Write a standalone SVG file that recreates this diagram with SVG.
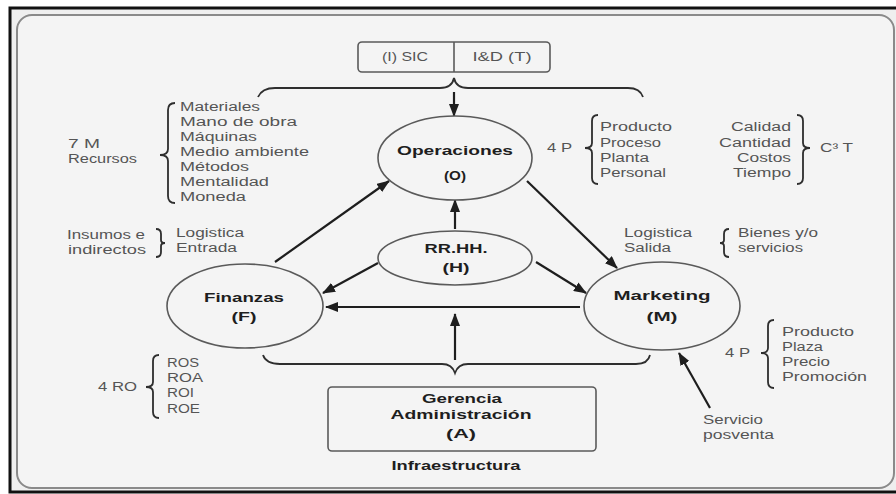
<svg xmlns="http://www.w3.org/2000/svg" width="896" height="494" viewBox="0 0 896 494">
<defs>
  <marker id="arrow" markerUnits="userSpaceOnUse" markerWidth="13" markerHeight="10" refX="12" refY="5" orient="auto">
    <path d="M0,0 L13,5 L0,10 z" fill="#1e1e1e"/>
  </marker>
</defs>
<style>
  .panel{fill:#f4f4f4;stroke:#8a8a8a;stroke-width:2}
  .shape{fill:#f4f4f4;stroke:#5a5a5a;stroke-width:1.6}
  .lbl{font-family:"Liberation Sans","Open Sans",sans-serif;font-size:12px;fill:#555}
  .bold{font-family:"Liberation Sans","Open Sans",sans-serif;font-size:13px;font-weight:bold;fill:#1e1e1e;text-anchor:middle}
  .mid{text-anchor:middle}
  .end{text-anchor:end}
  .link{stroke:#1e1e1e;stroke-width:2.2;fill:none}
  .brace{stroke:#2e2e2e;stroke-width:1.8;fill:none}
</style>

<!-- page frame -->
<rect x="0" y="0" width="896" height="494" fill="#ffffff"/>
<rect x="10" y="8" width="892" height="484" fill="#efefef" stroke="#111" stroke-width="3"/>
<rect class="panel" x="17" y="15" width="877" height="473" rx="15"/>

<!-- connectors -->
<g id="connectors">
  <path class="brace" d="M258,97 Q262,88 275,88 L440,88 Q452,88 454,78 Q456,88 468,88 L628,88 Q640,88 643,97"/>
  <line class="link" x1="454" y1="92" x2="454" y2="116" marker-end="url(#arrow)"/>
  <line class="link" x1="275" y1="262" x2="389" y2="181" marker-end="url(#arrow)"/>
  <line class="link" x1="527" y1="181" x2="617" y2="268" marker-end="url(#arrow)"/>
  <line class="link" x1="455" y1="229" x2="455" y2="200" marker-end="url(#arrow)"/>
  <line class="link" x1="378" y1="263" x2="323" y2="293" marker-end="url(#arrow)"/>
  <line class="link" x1="536" y1="262" x2="586" y2="293" marker-end="url(#arrow)"/>
  <line class="link" x1="580" y1="307" x2="326" y2="307" marker-end="url(#arrow)"/>
  <line class="link" x1="455" y1="360" x2="455" y2="314" marker-end="url(#arrow)"/>
  <path class="brace" d="M263,355 Q266,364 280,364 L442,364 Q452,364 455,373 Q458,364 468,364 L636,364 Q648,364 650,355"/>
  <line class="link" x1="710" y1="408" x2="679" y2="353" marker-end="url(#arrow)"/>
</g>

<!-- top box: information systems / R&D -->
<g id="node-sic-id">
  <rect class="shape" x="358" y="42" width="192" height="30" rx="4"/>
  <line x1="454" y1="42" x2="454" y2="72" stroke="#5a5a5a" stroke-width="1.6"/>
  <text class="lbl mid" x="405" y="61" textLength="46" lengthAdjust="spacingAndGlyphs">(I) SIC</text>
  <text class="lbl mid" x="502" y="61" textLength="59" lengthAdjust="spacingAndGlyphs">I&amp;D (T)</text>
</g>

<g id="node-operaciones">
  <ellipse class="shape" cx="455" cy="158" rx="77" ry="42"/>
  <text class="bold" x="455" y="155" textLength="116" lengthAdjust="spacingAndGlyphs">Operaciones</text>
  <text class="bold" x="455" y="180" textLength="22" lengthAdjust="spacingAndGlyphs">(O)</text>
</g>

<g id="node-rrhh">
  <ellipse class="shape" cx="455" cy="258" rx="77" ry="27"/>
  <text class="bold" x="456" y="253" textLength="63" lengthAdjust="spacingAndGlyphs">RR.HH.</text>
  <text class="bold" x="456" y="272" textLength="27" lengthAdjust="spacingAndGlyphs">(H)</text>
</g>

<g id="node-finanzas">
  <ellipse class="shape" cx="245" cy="306" rx="78" ry="42"/>
  <text class="bold" x="244" y="302" textLength="80" lengthAdjust="spacingAndGlyphs">Finanzas</text>
  <text class="bold" x="244" y="321" textLength="25" lengthAdjust="spacingAndGlyphs">(F)</text>
</g>

<g id="node-marketing">
  <ellipse class="shape" cx="662" cy="306" rx="78" ry="44"/>
  <text class="bold" x="662" y="300" textLength="97" lengthAdjust="spacingAndGlyphs">Marketing</text>
  <text class="bold" x="662" y="321" textLength="31" lengthAdjust="spacingAndGlyphs">(M)</text>
</g>

<g id="node-gerencia">
  <rect class="shape" x="328" y="387" width="268" height="64" rx="4"/>
  <text class="bold" x="462" y="403" textLength="80" lengthAdjust="spacingAndGlyphs">Gerencia</text>
  <text class="bold" x="461" y="419" textLength="141" lengthAdjust="spacingAndGlyphs">Administración</text>
  <text class="bold" x="461" y="438" textLength="30" lengthAdjust="spacingAndGlyphs">(A)</text>
  <text class="bold" x="456" y="470" textLength="129" lengthAdjust="spacingAndGlyphs">Infraestructura</text>
</g>

<!-- 7 M resources -->
<g id="note-7m">
  <text class="lbl" x="68" y="148" textLength="32" lengthAdjust="spacingAndGlyphs">7 M</text>
  <text class="lbl" x="68" y="163" textLength="69" lengthAdjust="spacingAndGlyphs">Recursos</text>
  <path class="brace" d="M175,103 Q168,103 168,110 L168,149 Q168,155 160,155 Q168,155 168,161 L168,196 Q168,203 175,203"/>
  <text class="lbl" x="180" y="111" textLength="80" lengthAdjust="spacingAndGlyphs">Materiales</text>
  <text class="lbl" x="180" y="126" textLength="117" lengthAdjust="spacingAndGlyphs">Mano de  obra</text>
  <text class="lbl" x="180" y="141" textLength="77" lengthAdjust="spacingAndGlyphs">Máquinas</text>
  <text class="lbl" x="180" y="156" textLength="129" lengthAdjust="spacingAndGlyphs">Medio ambiente</text>
  <text class="lbl" x="180" y="171" textLength="69" lengthAdjust="spacingAndGlyphs">Métodos</text>
  <text class="lbl" x="180" y="186" textLength="89" lengthAdjust="spacingAndGlyphs">Mentalidad</text>
  <text class="lbl" x="180" y="201" textLength="66" lengthAdjust="spacingAndGlyphs">Moneda</text>
</g>

<!-- inbound logistics -->
<g id="note-entrada">
  <text class="lbl" x="67" y="239" textLength="78" lengthAdjust="spacingAndGlyphs">Insumos e</text>
  <text class="lbl" x="68" y="254" textLength="78" lengthAdjust="spacingAndGlyphs">indirectos</text>
  <path class="brace" d="M156,229 Q161,229 161,234 L161,240 Q161,243 165,243 Q161,243 161,246 L161,252 Q161,257 156,257"/>
  <text class="lbl" x="176" y="237" textLength="68" lengthAdjust="spacingAndGlyphs">Logistica</text>
  <text class="lbl" x="176" y="252" textLength="61" lengthAdjust="spacingAndGlyphs">Entrada</text>
</g>

<!-- 4 P operations -->
<g id="note-4p-operaciones">
  <text class="lbl" x="547" y="152" textLength="25" lengthAdjust="spacingAndGlyphs">4 P</text>
  <path class="brace" d="M598,115 Q592,115 592,121 L592,143 Q592,148 585,148 Q592,148 592,153 L592,178 Q592,184 598,184"/>
  <text class="lbl" x="600" y="131" textLength="72" lengthAdjust="spacingAndGlyphs">Producto</text>
  <text class="lbl" x="600" y="147" textLength="61" lengthAdjust="spacingAndGlyphs">Proceso</text>
  <text class="lbl" x="600" y="162" textLength="49" lengthAdjust="spacingAndGlyphs">Planta</text>
  <text class="lbl" x="600" y="177" textLength="66" lengthAdjust="spacingAndGlyphs">Personal</text>
</g>

<!-- C3 T -->
<g id="note-c3t">
  <text class="lbl end" x="791" y="131" textLength="60" lengthAdjust="spacingAndGlyphs">Calidad</text>
  <text class="lbl end" x="791" y="147" textLength="72" lengthAdjust="spacingAndGlyphs">Cantidad</text>
  <text class="lbl end" x="791" y="162" textLength="54" lengthAdjust="spacingAndGlyphs">Costos</text>
  <text class="lbl end" x="791" y="177" textLength="58" lengthAdjust="spacingAndGlyphs">Tiempo</text>
  <path class="brace" d="M797,115 Q803,115 803,121 L803,143 Q803,148 810,148 Q803,148 803,153 L803,178 Q803,184 797,184"/>
  <text class="lbl" x="820" y="152" textLength="33" lengthAdjust="spacingAndGlyphs">C³ T</text>
</g>

<!-- outbound logistics -->
<g id="note-salida">
  <text class="lbl" x="624" y="237" textLength="68" lengthAdjust="spacingAndGlyphs">Logistica</text>
  <text class="lbl" x="624" y="252" textLength="47" lengthAdjust="spacingAndGlyphs">Salida</text>
  <path class="brace" d="M729,229 Q724,229 724,234 L724,240 Q724,243 720,243 Q724,243 724,246 L724,252 Q724,257 729,257"/>
  <text class="lbl" x="738" y="237" textLength="80" lengthAdjust="spacingAndGlyphs">Bienes y/o</text>
  <text class="lbl" x="738" y="252" textLength="65" lengthAdjust="spacingAndGlyphs">servicios</text>
</g>

<!-- 4 P marketing -->
<g id="note-4p-marketing">
  <text class="lbl" x="725" y="357" textLength="25" lengthAdjust="spacingAndGlyphs">4 P</text>
  <path class="brace" d="M774,320 Q768,320 768,326 L768,348 Q768,353 761,353 Q768,353 768,358 L768,382 Q768,388 774,388"/>
  <text class="lbl" x="782" y="336" textLength="72" lengthAdjust="spacingAndGlyphs">Producto</text>
  <text class="lbl" x="782" y="351" textLength="41" lengthAdjust="spacingAndGlyphs">Plaza</text>
  <text class="lbl" x="782" y="366" textLength="48" lengthAdjust="spacingAndGlyphs">Precio</text>
  <text class="lbl" x="782" y="381" textLength="85" lengthAdjust="spacingAndGlyphs">Promoción</text>
</g>

<!-- 4 RO finance ratios -->
<g id="note-4ro">
  <text class="lbl" x="98" y="391" textLength="39" lengthAdjust="spacingAndGlyphs">4 RO</text>
  <path class="brace" d="M159,355 Q153,355 153,361 L153,382 Q153,387 146,387 Q153,387 153,392 L153,412 Q153,418 159,418"/>
  <text class="lbl" x="167" y="367" textLength="32" lengthAdjust="spacingAndGlyphs">ROS</text>
  <text class="lbl" x="167" y="382" textLength="36" lengthAdjust="spacingAndGlyphs">ROA</text>
  <text class="lbl" x="167" y="397" textLength="27" lengthAdjust="spacingAndGlyphs">ROI</text>
  <text class="lbl" x="167" y="413" textLength="33" lengthAdjust="spacingAndGlyphs">ROE</text>
</g>

<!-- after-sales service -->
<g id="note-posventa">
  <text class="lbl" x="703" y="424" textLength="60" lengthAdjust="spacingAndGlyphs">Servicio</text>
  <text class="lbl" x="703" y="439" textLength="71" lengthAdjust="spacingAndGlyphs">posventa</text>
</g>
</svg>
